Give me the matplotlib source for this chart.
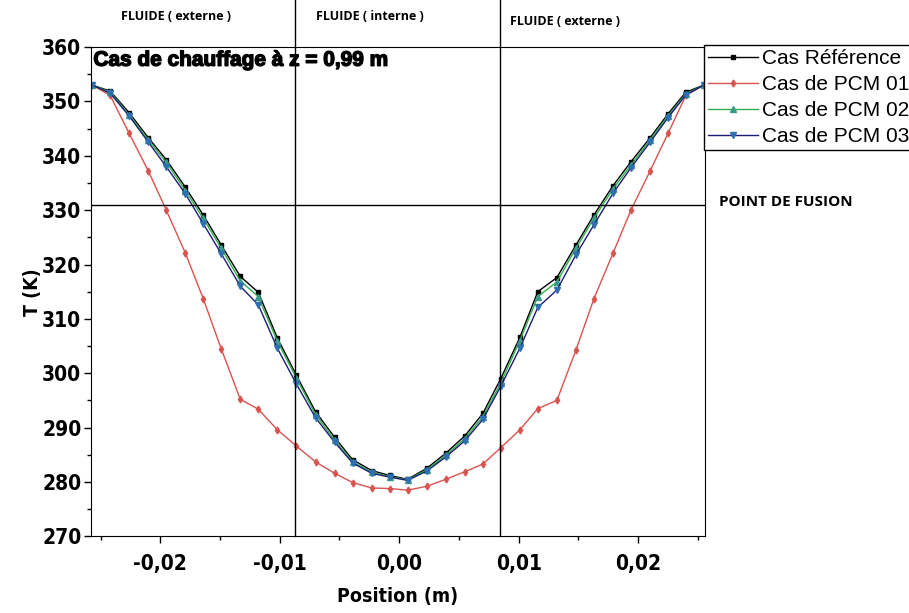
import matplotlib
matplotlib.use('Agg')
import matplotlib.pyplot as plt
import matplotlib.transforms as mtransforms
import matplotlib.patheffects as pe
from matplotlib.ticker import MultipleLocator, FuncFormatter

# positions (m)
position = [-0.0257, -0.0242, -0.0226, -0.0210, -0.0195, -0.0179, -0.0164, -0.0149,
            -0.0133, -0.0118, -0.0102, -0.0086, -0.0070, -0.0054, -0.0039, -0.0023,
            -0.0008, 0.0007, 0.0023, 0.0039, 0.0055, 0.0070, 0.0085, 0.0101,
            0.0116, 0.0132, 0.0148, 0.0163, 0.0179, 0.0194, 0.0210, 0.0225,
            0.0240, 0.0255]

t_ref = [353.0, 351.9, 347.9, 343.3, 339.3, 334.2, 329.1, 323.6, 317.8, 314.9, 306.5,
         299.6, 292.9, 288.2, 284.1, 282.1, 281.2, 280.5,
         282.5, 285.3, 288.5, 292.6, 299.0, 306.6, 315.0, 317.6, 323.6, 329.1, 334.5,
         338.9, 343.3, 347.7, 351.7, 353.0]
t_pcm01 = [353.0, 351.1, 344.1, 337.2, 330.0, 322.1, 313.7, 304.5, 295.2, 293.4, 289.6,
           286.6, 283.7, 281.6, 279.9, 278.9, 278.8, 278.5,
           279.2, 280.5, 281.9, 283.3, 286.3, 289.6, 293.5, 295.0, 304.3, 313.7, 322.1,
           330.0, 337.2, 344.1, 351.1, 353.0]
t_pcm02 = [353.0, 351.7, 347.5, 342.9, 338.8, 333.6, 328.5, 323.0, 317.0, 314.1, 305.9,
           299.1, 292.4, 287.7, 283.7, 281.8, 281.0, 280.4,
           282.2, 284.9, 288.0, 292.0, 298.2, 306.0, 314.1, 316.8, 323.0, 328.5, 333.9,
           338.3, 342.9, 347.3, 351.4, 353.0]
t_pcm03 = [353.0, 351.5, 347.3, 342.5, 338.0, 333.0, 327.5, 322.0, 316.0, 312.6, 304.6,
           298.0, 291.8, 287.3, 283.5, 281.6, 280.9, 280.3,
           282.0, 284.6, 287.6, 291.5, 297.6, 304.6, 312.1, 315.3, 321.8, 327.3, 333.1,
           337.8, 342.5, 347.0, 351.2, 353.0]

labels = ['Cas Référence', 'Cas de PCM 01', 'Cas de PCM 02', 'Cas de PCM 03']
t_fusion = 331
x_limits = [-0.0087, 0.0084]  # fluide externe / interne
zones = ['FLUIDE ( externe )', 'FLUIDE ( interne )', 'FLUIDE ( externe )']
zone_x = [-0.0233, -0.0070, 0.0093]
zone_y = [1.062, 1.062, 1.052]

plt.rcParams['font.family'] = ['Liberation Sans', 'DejaVu Sans']

fig = plt.figure(figsize=(9.09, 6.13), dpi=100)
ax = fig.add_axes([0.1001, 0.125, 0.6755, 0.7983])

ax.plot(position, t_ref, color='black', lw=1, marker='s', ms=2.5, label=labels[0])
ax.plot(position, t_pcm01, color='#d9534f', lw=1, marker='d', ms=3.5, label=labels[1])
ax.plot(position, t_pcm02, color='#2fb04a', lw=1, marker='^', ms=4.5,
        mfc='#3a9a8a', mec='#3a9a8a', label=labels[2])
ax.plot(position, t_pcm03, color='#1c1c7a', lw=1, marker='v', ms=4.5,
        mfc='#2f6fb0', mec='#2f6fb0', label=labels[3])

ax.set_xlim(-0.0258, 0.0256)
ax.set_ylim(270, 360)

ax.axhline(t_fusion, color='black', lw=1)
trans = mtransforms.blended_transform_factory(ax.transData, ax.transAxes)
for xv in x_limits:
    ax.plot([xv, xv], [0, 1.096], color='black', lw=1, transform=trans, clip_on=False)

ax.xaxis.set_major_locator(MultipleLocator(0.01))
ax.xaxis.set_minor_locator(MultipleLocator(0.005))
ax.yaxis.set_major_locator(MultipleLocator(10))
ax.yaxis.set_minor_locator(MultipleLocator(5))
ax.xaxis.set_major_formatter(FuncFormatter(lambda v, p: f'{v:.2f}'.replace('.', ',')))
ax.yaxis.set_major_formatter(FuncFormatter(lambda v, p: f'{v:.0f}'))
ax.tick_params(which='major', direction='out', length=5, width=1, pad=2)
ax.tick_params(which='minor', direction='out', length=3, width=1)
ax.tick_params(axis='x', which='major', pad=8)
for lab in ax.get_xticklabels() + ax.get_yticklabels():
    lab.set_family('DejaVu Sans')
    lab.set_stretch('condensed')
    lab.set_fontweight('bold')
    lab.set_fontsize(15)

ax.set_xlabel('Position (m)', family='DejaVu Sans', fontstretch='condensed',
              fontweight='bold', fontsize=14, labelpad=9)
ax.set_ylabel('T (K)', family='DejaVu Sans', fontstretch='condensed',
              fontweight='bold', fontsize=14, labelpad=0)

ax.text(0.004, 0.973, 'Cas de chauffage à z = 0,99 m', transform=ax.transAxes,
        fontsize=15, fontweight='bold', va='center', ha='left',
        path_effects=[pe.withStroke(linewidth=1.0, foreground='black')])

for name, xv, yv in zip(zones, zone_x, zone_y):
    ax.text(xv, yv, name, transform=trans, fontsize=9, fontweight='bold',
            ha='left', va='center', family=['Open Sans', 'DejaVu Sans'])

ax.text(1.022, (t_fusion - 270) / 90 + 0.006, 'POINT DE FUSION', transform=ax.transAxes,
        fontsize=11, fontweight='bold', ha='left', va='center',
        family=['Open Sans', 'DejaVu Sans'])

leg = ax.legend(loc='upper left', bbox_to_anchor=(0.998, 1.004), borderaxespad=0,
                fontsize=15, handlelength=2.4, handletextpad=0.2, borderpad=0.2,
                labelspacing=0.33, fancybox=False, edgecolor='black', framealpha=1)
leg.get_frame().set_linewidth(1)

fig.savefig('out.png', dpi=100)
